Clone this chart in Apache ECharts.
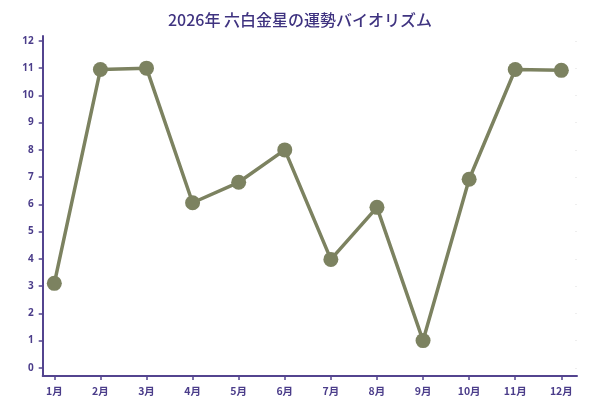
<!DOCTYPE html>
<html>
<head>
<meta charset="utf-8">
<script src="https://cdn.jsdelivr.net/npm/echarts@6/dist/echarts.min.js"></script>
<style>html,body{margin:0;padding:0;background:#fff}#c{width:600px;height:400px}</style>
</head>
<body>
<div id="c"></div>
<script>
const titleText = '2026年 六白金星の運勢バイオリズム';
const months = ['1月','2月','3月','4月','5月','6月','7月','8月','9月','10月','11月','12月'];
const values = [3.1, 10.95, 11.0, 6.06, 6.81, 8.0, 3.98, 5.89, 1.0, 6.92, 10.95, 10.92];
const yTicks = [0,1,2,3,4,5,6,7,8,9,10,11,12];

const purple = '#53448f';
const monthPos = months.map((m,i)=>i+1);
const chart = echarts.init(document.getElementById('c'), null, {renderer:'canvas'});
chart.setOption({
  animation: false,
  backgroundColor: '#fff',
  title: {
    text: titleText, left: 'center', top: 7,
    textStyle: {fontFamily: '"Noto Sans CJK JP", sans-serif', fontSize: 16, fontWeight: 500, color: '#3f3380'}
  },
  grid: {left: 42.7, right: 23, top: 36, bottom: 24, containLabel: false},
  xAxis: {
    type: 'value', min: 0.748, max: 12.34,
    axisLine: {show: true, onZero: false, lineStyle: {color: purple, width: 2}},
    axisTick: {show: true, length: 4, lineStyle: {color: purple, width: 1.5}, customValues: monthPos},
    axisLabel: {color: '#4b3d8a', fontSize: 10.5, fontWeight: 'bold', margin: 10,
      fontFamily: '"Noto Sans CJK JP", sans-serif',
      customValues: monthPos,
      formatter: v => months[Math.round(v)-1] || ''},
    splitLine: {show: false}
  },
  yAxis: [{
    type: 'value', min: -0.3, max: 12.18,
    axisLine: {show: true, onZero: false, lineStyle: {color: purple, width: 2}},
    axisTick: {show: true, length: 4, lineStyle: {color: purple, width: 1.5}, customValues: yTicks},
    axisLabel: {color: '#4b3d8a', fontSize: 10, fontWeight: 'bold', margin: 9,
      fontFamily: '"Noto Sans", sans-serif', customValues: yTicks},
    splitLine: {show: false}
  }, {
    type: 'value', min: -0.3, max: 12.18, position: 'right',
    axisLine: {show: false},
    axisTick: {show: true, length: 2, inside: true, lineStyle: {color: '#eeeeee', width: 1}, customValues: yTicks},
    axisLabel: {show: false},
    splitLine: {show: false}
  }],
  series: [{
    type: 'line',
    data: values.map((v,i)=>[i+1, v]),
    symbol: 'circle', symbolSize: 15,
    lineStyle: {color: '#7c8260', width: 3.5},
    itemStyle: {color: '#7c8260'},
    z: 3
  }]
});
</script>
</body>
</html>
